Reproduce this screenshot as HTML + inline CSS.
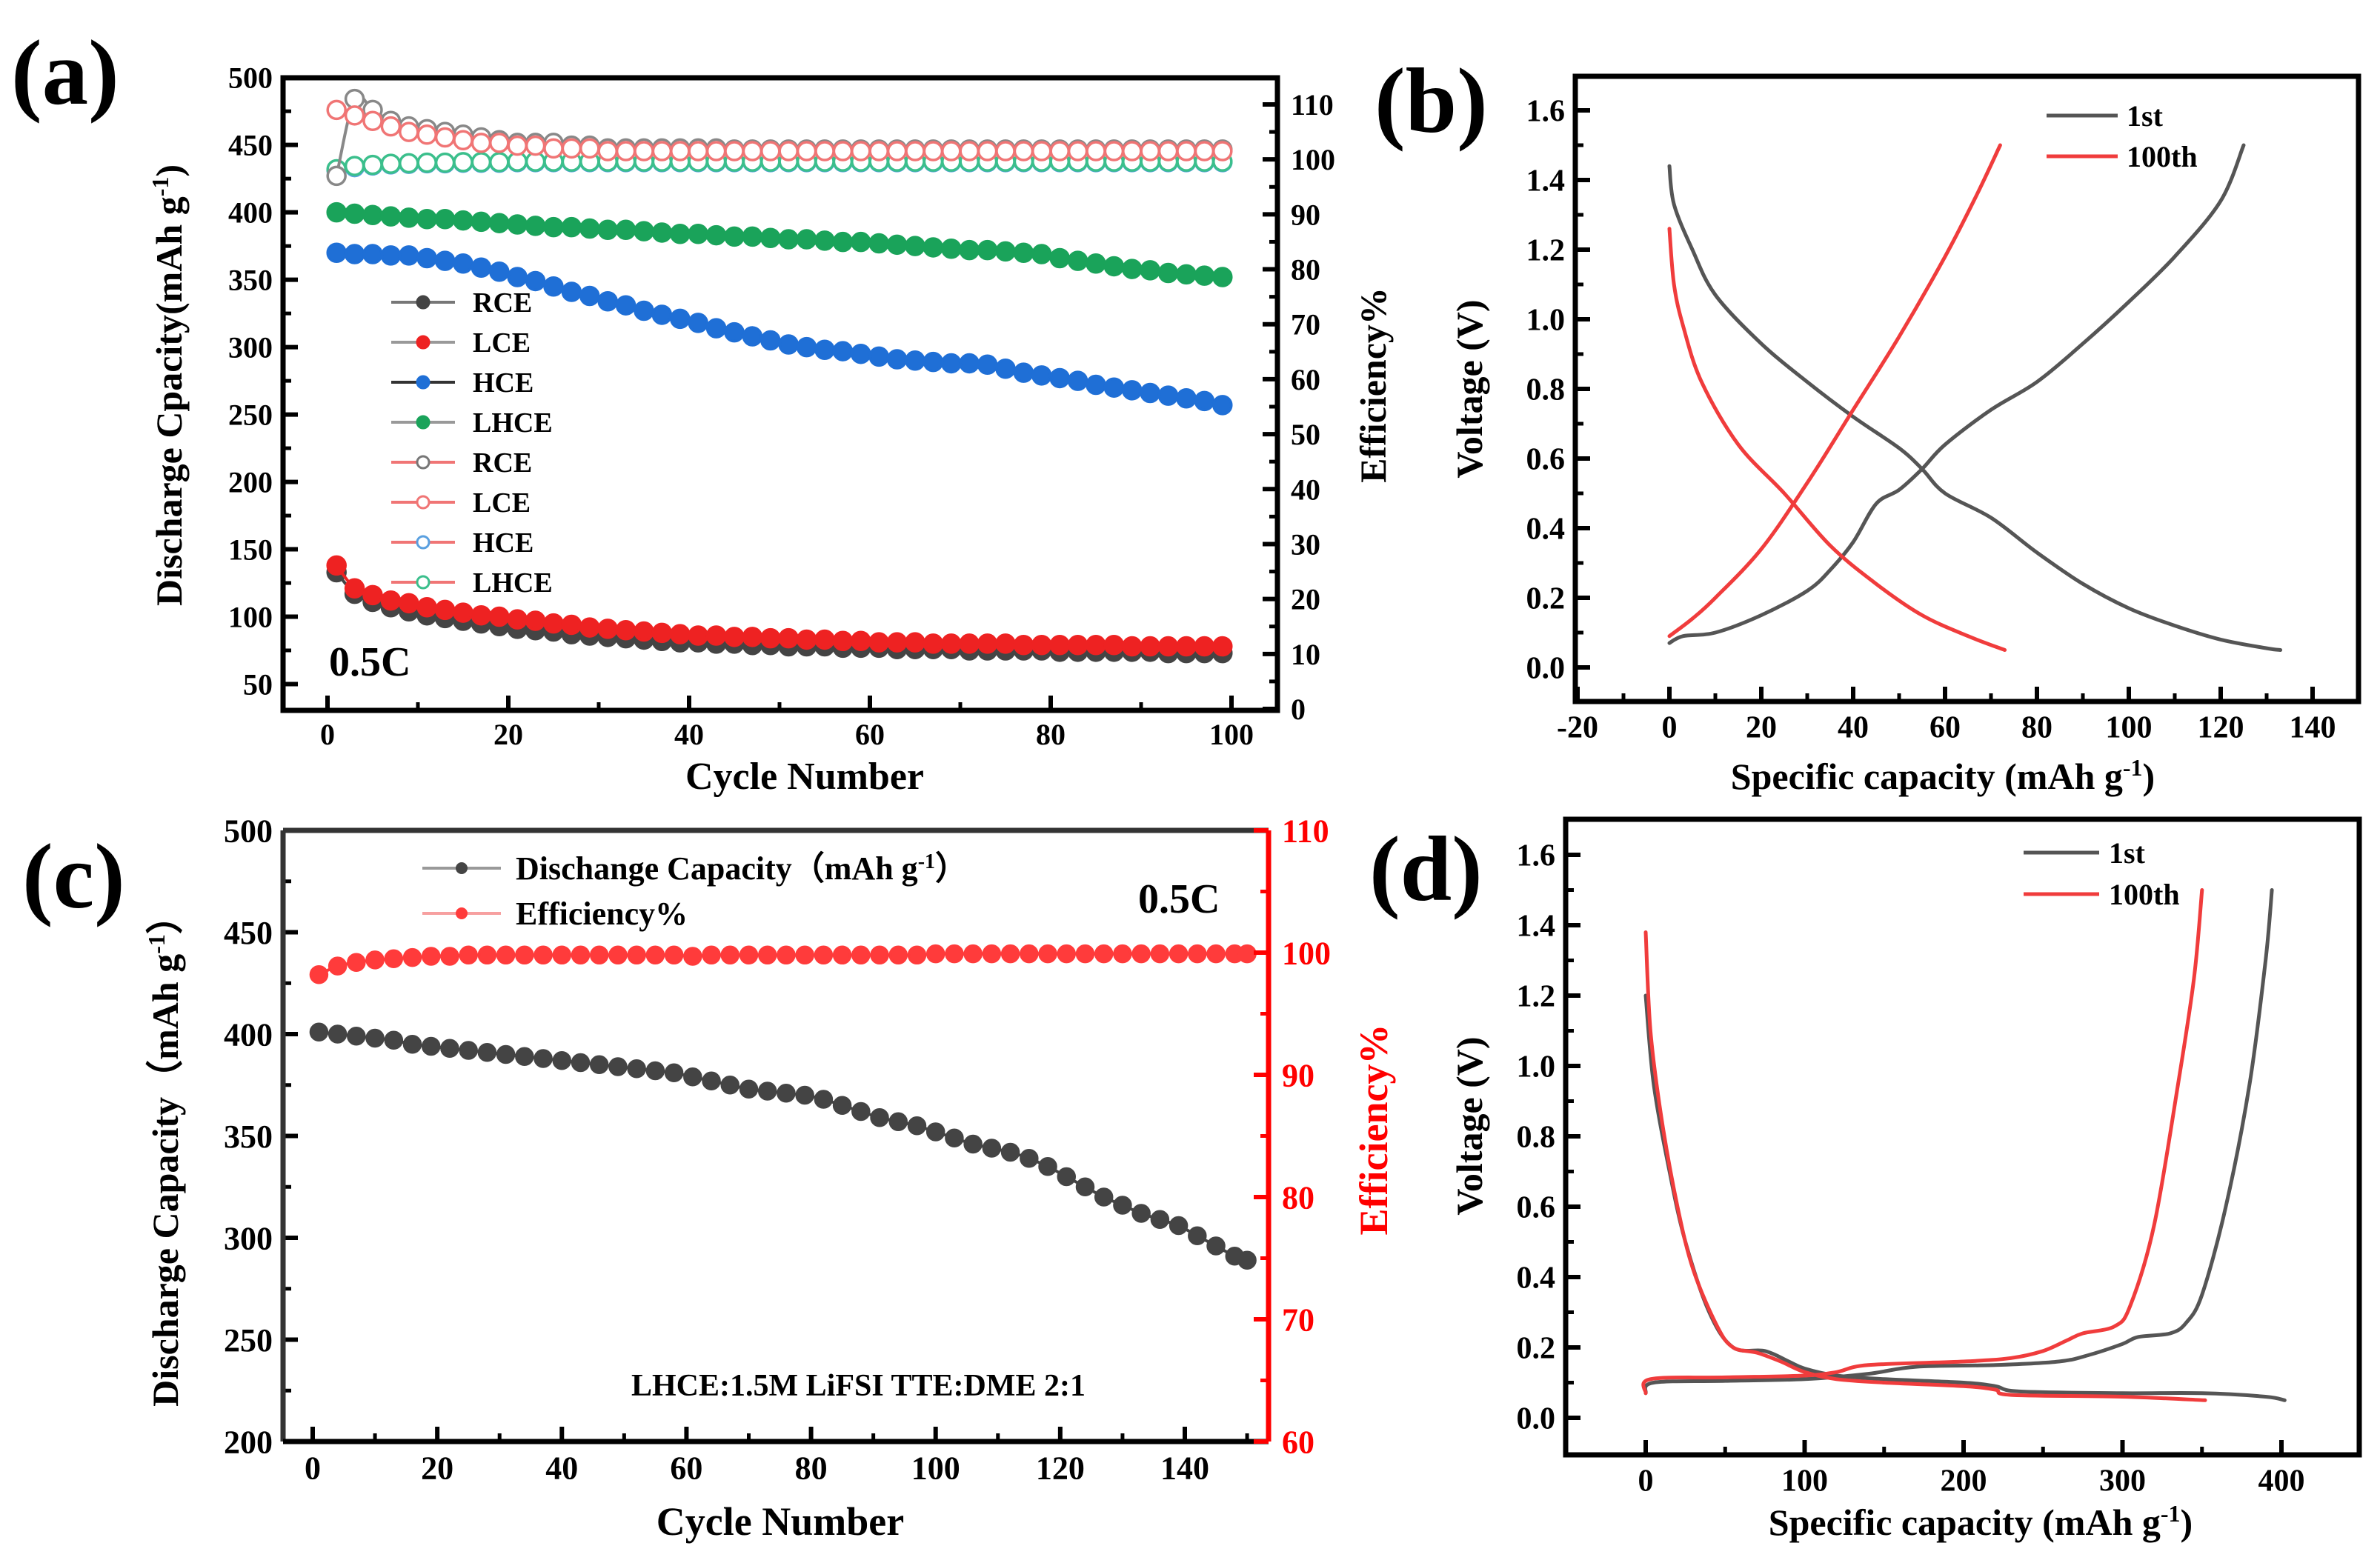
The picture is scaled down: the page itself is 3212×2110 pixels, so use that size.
<!DOCTYPE html>
<html><head><meta charset="utf-8">
<style>
html,body{margin:0;padding:0;background:#fff;}
svg{display:block;font-family:"Liberation Serif","Times New Roman",serif;font-weight:bold;}
</style></head>
<body>
<svg id="fig" width="3212" height="2110" viewBox="0 0 3212 2110" xmlns="http://www.w3.org/2000/svg">
<rect x="0" y="0" width="3212" height="2110" fill="#fff"/>
<text x="15" y="140" font-size="125">(a)</text>
<text x="1855" y="178" font-size="125">(b)</text>
<text x="30" y="1225" font-size="125">(c)</text>
<text x="1848" y="1215" font-size="125">(d)</text>
</svg>
<script>
// ---------- Panel (a) data ----------
const cyclesA = [1,3,5,7,9,11,13,15,17,19,21,23,25,27,29,31,33,35,37,39,41,43,45,47,49,51,53,55,57,59,61,63,65,67,69,71,73,75,77,79,81,83,85,87,89,91,93,95,97,99];
const capRCE = [133,117,111,107,104,101,99,97,95,93,91,90,89,87,86,85,84,83,82,81,81,80,80,79,79,78,78,78,77,77,77,76,76,76,76,75,75,75,75,75,74,74,74,74,74,74,73,73,73,73];
const capLCE = [138,121,116,112,110,107,105,103,101,100,98,97,95,94,92,91,90,89,88,87,86,86,85,85,84,84,83,83,82,82,81,81,81,80,80,80,80,80,79,79,79,79,79,79,78,78,78,78,78,78];
const capHCE = [370,369,369,368,368,366,364,362,359,356,352,349,345,341,338,334,331,327,324,321,318,314,311,308,305,302,300,298,297,295,293,291,290,289,288,288,287,284,281,279,277,275,272,270,268,266,264,262,260,257];
const capLHCE = [400,399,398,397,396,395,395,394,393,392,391,390,389,389,388,387,387,386,385,384,384,383,382,382,381,380,380,379,378,378,377,376,375,374,373,372,372,371,370,369,366,364,362,360,358,357,355,354,353,352];
const effRCE = [97,111,109,107,106,105.5,105,104.5,104,103.5,103,103,103,102.5,102.5,102,102,102,102,102,102,102,101.8,101.8,101.8,101.8,101.8,101.8,101.8,101.8,101.8,101.8,101.8,101.8,101.8,101.8,101.8,101.8,101.8,101.8,101.8,101.8,101.8,101.8,101.8,101.8,101.8,101.8,101.8,101.8];
const effLCE = [109,108,107,106,105,104.5,104,103.5,103,103,102.5,102.5,102,102,102,101.5,101.5,101.5,101.5,101.5,101.5,101.5,101.5,101.5,101.5,101.5,101.5,101.5,101.5,101.5,101.5,101.5,101.5,101.5,101.5,101.5,101.5,101.5,101.5,101.5,101.5,101.5,101.5,101.5,101.5,101.5,101.5,101.5,101.5,101.5];
const effHCE = [98,98.6,98.9,99.1,99.2,99.3,99.3,99.4,99.4,99.4,99.5,99.5,99.5,99.5,99.5,99.5,99.5,99.5,99.5,99.5,99.5,99.5,99.5,99.5,99.5,99.5,99.5,99.5,99.5,99.5,99.5,99.5,99.5,99.5,99.5,99.5,99.5,99.5,99.5,99.5,99.5,99.5,99.5,99.5,99.5,99.5,99.5,99.5,99.5,99.5];
const effLHCE = [98.2,98.8,99.0,99.2,99.3,99.4,99.4,99.5,99.5,99.5,99.6,99.6,99.6,99.6,99.6,99.6,99.6,99.6,99.6,99.6,99.6,99.6,99.6,99.6,99.6,99.6,99.6,99.6,99.6,99.6,99.6,99.6,99.6,99.6,99.6,99.6,99.6,99.6,99.6,99.6,99.6,99.6,99.6,99.6,99.6,99.6,99.6,99.6,99.6,99.6];
const legendA = ["RCE","LCE","HCE","LHCE","RCE","LCE","HCE","LHCE"];
// ---------- Panel (b) data ----------
const b1ChX = [0,3,10,20,30,35,40,45,50,55,60,70,80,90,100,110,120,125];
const b1ChY = [0.07,0.09,0.10,0.15,0.22,0.28,0.36,0.47,0.51,0.57,0.64,0.74,0.82,0.93,1.05,1.18,1.34,1.50];
const b1DiX = [0,1,5,10,20,30,40,50,55,60,70,80,90,100,110,120,130,133];
const b1DiY = [1.44,1.33,1.20,1.07,0.93,0.82,0.72,0.63,0.57,0.50,0.43,0.33,0.24,0.17,0.12,0.08,0.055,0.05];
const b100ChX = [0,5,10,20,30,40,50,60,67,72];
const b100ChY = [0.09,0.14,0.20,0.34,0.53,0.74,0.95,1.18,1.36,1.50];
const b100DiX = [0,1,3,7,15,25,35,45,55,65,73];
const b100DiY = [1.26,1.10,0.98,0.82,0.64,0.50,0.35,0.24,0.15,0.09,0.05];
// ---------- Panel (c) data ----------
const cyclesC = [1,4,7,10,13,16,19,22,25,28,31,34,37,40,43,46,49,52,55,58,61,64,67,70,73,76,79,82,85,88,91,94,97,100,103,106,109,112,115,118,121,124,127,130,133,136,139,142,145,148,150];
const capC = [401,400,399,398,397,395,394,393,392,391,390,389,388,387,386,385,384,383,382,381,379,377,375,373,372,371,370,368,365,362,359,357,355,352,349,346,344,342,339,335,330,325,320,316,312,309,306,301,296,291,289];
const effC = [98.2,98.9,99.2,99.4,99.5,99.6,99.7,99.7,99.8,99.8,99.8,99.8,99.8,99.8,99.8,99.8,99.8,99.8,99.8,99.8,99.7,99.8,99.8,99.8,99.8,99.8,99.8,99.8,99.8,99.8,99.8,99.8,99.8,99.9,99.9,99.9,99.9,99.9,99.9,99.9,99.9,99.9,99.9,99.9,99.9,99.9,99.9,99.9,99.9,99.9,99.9];
// ---------- Panel (d) data ----------
const d1DiX = [0,5,15,25,40,55,75,90,100,120,150,200,220,235,300,350,390,402];
const d1DiY = [1.20,0.95,0.70,0.50,0.30,0.20,0.19,0.16,0.14,0.12,0.11,0.10,0.09,0.075,0.07,0.07,0.06,0.05];
const d1ChX = [0,5,50,100,140,170,220,260,280,300,310,330,340,350,365,380,390,394];
const d1ChY = [0.07,0.10,0.105,0.11,0.125,0.145,0.15,0.16,0.18,0.21,0.23,0.24,0.27,0.35,0.60,0.95,1.30,1.50];
const d100DiX = [0,3,10,20,30,45,55,70,85,100,120,150,200,220,230,300,352];
const d100DiY = [1.38,1.10,0.85,0.60,0.42,0.26,0.20,0.185,0.16,0.13,0.11,0.10,0.09,0.08,0.065,0.06,0.05];
const d100ChX = [0,3,50,100,120,140,200,230,250,265,275,295,305,320,335,345,350];
const d100ChY = [0.07,0.11,0.115,0.12,0.13,0.15,0.16,0.17,0.19,0.22,0.24,0.26,0.32,0.55,0.95,1.25,1.50];

const NS = "http://www.w3.org/2000/svg";
const svg = document.getElementById("fig");
function mk(tag, attrs, parent){
  const e = document.createElementNS(NS, tag);
  for (const k in attrs) e.setAttribute(k, attrs[k]);
  (parent||svg).appendChild(e);
  return e;
}
function lin(d0,d1,p0,p1){ return v => p0 + (v-d0)*(p1-p0)/(d1-d0); }

function axisY(x, sc, vals, minors, side, color, fmt, fs){
  const dir = side==="left" ? 1 : -1;
  vals.forEach(v=>{
    const l = mk("line",{x1:x,x2:x+dir*20,y1:sc(v),y2:sc(v),stroke:color,"stroke-width":6});
    
    
    const t = mk("text",{x: side==="left"? x-14 : x+18, y: sc(v)+fs*0.35, "font-size":fs, fill:color, "text-anchor": side==="left"?"end":"start"});
    t.textContent = fmt(v);
    
    
  });
  minors.forEach(v=>{
    const l = mk("line",{x1:x,x2:x+dir*11,y1:sc(v),y2:sc(v),stroke:color,"stroke-width":5});
    
    
  });
}
function axisX(y, sc, vals, minors, fmt, fs){
  vals.forEach(v=>{
    const l = mk("line",{x1:sc(v),x2:sc(v),y1:y,y2:y-20,stroke:"#000","stroke-width":6});
    
    
    const t = mk("text",{x:sc(v), y:y+fs*1.15, "font-size":fs, "text-anchor":"middle"});
    t.textContent = fmt(v);
    
    
  });
  minors.forEach(v=>{
    const l = mk("line",{x1:sc(v),x2:sc(v),y1:y,y2:y-11,stroke:"#000","stroke-width":5});
    
    
  });
}
function frame(x0,y0,x1,y1,name){
  const r = mk("rect",{x:x0,y:y0,width:x1-x0,height:y1-y0,fill:"none",stroke:"#000","stroke-width":7});
  
  
}
function title(txt, x, y, fs, rot, color, name){
  const t = mk("text",{x:x,y:y,"font-size":fs,"text-anchor":"middle",fill:color||"#000"});
  if (rot) t.setAttribute("transform",`rotate(-90 ${x} ${y})`);
  t.innerHTML = txt;
  
  
  return t;
}
function curve(xs, ys, sx, sy, color, w, name){
  const P = xs.map((v,i)=>[sx(v), sy(ys[i])]);
  let d = `M${P[0][0].toFixed(1)},${P[0][1].toFixed(1)}`;
  for (let i=0;i<P.length-1;i++){
    const p0=P[Math.max(0,i-1)], p1=P[i], p2=P[i+1], p3=P[Math.min(P.length-1,i+2)];
    const c1=[p1[0]+(p2[0]-p0[0])/6, p1[1]+(p2[1]-p0[1])/6];
    const c2=[p2[0]-(p3[0]-p1[0])/6, p2[1]-(p3[1]-p1[1])/6];
    d += ` C${c1[0].toFixed(1)},${c1[1].toFixed(1)} ${c2[0].toFixed(1)},${c2[1].toFixed(1)} ${p2[0].toFixed(1)},${p2[1].toFixed(1)}`;
  }
  const p = mk("path",{d:d,fill:"none",stroke:color,"stroke-width":w,"stroke-linejoin":"round","stroke-linecap":"round"});
  
  
}
function markers(xs, ys, sx, sy, color, filled, r, name){
  curve(xs, ys, sx, sy, color, 4, name+"-line");
  xs.forEach((v,i)=>{
    const c = mk("circle",{cx:sx(v),cy:sy(ys[i]),r:r,fill:filled?color:"#fff",stroke:color,"stroke-width":3.5});
    
    
  });
}
const rng = (a,b,s)=>{const o=[];for(let v=a;v<=b+1e-9;v+=s)o.push(+v.toFixed(4));return o;};

// ===== Panel (a) =====
{
  const x0=382,x1=1724,y0=105,y1=959;
  const sx = lin(0,100,442,1662);
  const sy = lin(50,500,923.5,104.7);
  const sr = lin(0,110,957,141);
  axisY(x0, sy, rng(50,500,50), rng(75,475,50), "left", "#000", v=>v, 40);
  axisY(x1, sr, rng(0,110,10), rng(5,105,10), "right", "#000", v=>v, 40);
  axisX(y1, sx, rng(0,100,20), rng(10,90,20), v=>v, 40);
  markers(cyclesA, effHCE, sx, sr, "#5aa0e0", false, 12, "eff-hce");
  markers(cyclesA, effLHCE, sx, sr, "#3bbf8c", false, 12, "eff-lhce");
  markers(cyclesA, effRCE, sx, sr, "#888", false, 12, "eff-rce");
  markers(cyclesA, effLCE, sx, sr, "#f07575", false, 12, "eff-lce");
  markers(cyclesA, capLHCE, sx, sy, "#1aa35a", true, 12, "cap-lhce");
  markers(cyclesA, capHCE, sx, sy, "#1f6fd6", true, 12, "cap-hce");
  markers(cyclesA, capRCE, sx, sy, "#444", true, 12, "cap-rce");
  markers(cyclesA, capLCE, sx, sy, "#ee2222", true, 12, "cap-lce");
  frame(x0,y0,x1,y1,"panel-a-frame");
  title("Cycle Number", 1086, 1065, 52, false, "#000", "x-axis-title-a");
  title("Discharge Cpacity(mAh g<tspan baseline-shift='super' font-size='32'>-1</tspan>)", 245, 520, 50, true, "#000", "y-axis-title-a");
  title("Efficiency%", 1870, 520, 50, true, "#000", "y2-axis-title-a");
  const t = mk("text",{x:444,y:912,"font-size":56}); t.textContent="0.5C";
   
  const cols = ["#444","#ee2222","#1f6fd6","#1aa35a","#777","#f07575","#5aa0e0","#3bbf8c"];
  const lcol = ["#777","#999","#333","#999","#f07575","#f07575","#f07575","#f07575"];
  legendA.forEach((name,i)=>{
    const y = 408 + i*54;
    const l = mk("line",{x1:528,x2:614,y1:y,y2:y,stroke:lcol[i],"stroke-width":4});
     
    const c = mk("circle",{cx:571,cy:y,r:8,fill:i<4?cols[i]:"#fff",stroke:cols[i],"stroke-width":3});
     
    const tx = mk("text",{x:638,y:y+13,"font-size":38}); tx.textContent = name;
     
  });
}
// ===== Panel (b) =====
{
  const x0=2126,x1=3183,y0=103,y1=947;
  const sx = lin(0,20,2253,2377);
  const sy = lin(0,1.6,901,149);
  axisY(x0, sy, rng(0,1.6,0.2), rng(0.1,1.5,0.2), "left", "#000", v=>v.toFixed(1), 42);
  axisX(y1, sx, rng(-20,140,20), rng(-10,130,20), v=>v, 42);
  curve(b1ChX,b1ChY,sx,sy,"#555",5,"curve-1st-charge-b");
  curve(b1DiX,b1DiY,sx,sy,"#555",5,"curve-1st-discharge-b");
  curve(b100ChX,b100ChY,sx,sy,"#f03c3c",5,"curve-100th-charge-b");
  curve(b100DiX,b100DiY,sx,sy,"#f03c3c",5,"curve-100th-discharge-b");
  frame(x0,y0,x1,y1,"panel-b-frame");
  title("Specific capacity (mAh g<tspan baseline-shift='super' font-size='32'>-1</tspan>)", 2622, 1065, 50, false, "#000", "x-axis-title-b");
  title("Voltage (V)", 2000, 525, 50, true, "#000", "y-axis-title-b");
  [["1st","#555",156],["100th","#f03c3c",211]].forEach(([n,c,y])=>{
    const l = mk("line",{x1:2762,x2:2858,y1:y,y2:y,stroke:c,"stroke-width":5});
     
    const t = mk("text",{x:2870,y:y+14,"font-size":40}); t.textContent=n;
     
  });
}
// ===== Panel (c) =====
{
  const x0=382,x1=1712,y0=1121,y1=1946;
  const sx = lin(0,140,422,1599);
  const sy = lin(200,500,1946,1121);
  const sr = lin(60,110,1946,1121);
  axisY(x0, sy, rng(200,500,50), rng(225,475,50), "left", "#000", v=>v, 44);
  axisX(y1, sx, rng(0,140,20), rng(10,150,20), v=>v, 44);
  markers(cyclesC, effC, sx, sr, "#ff3b3b", true, 11, "eff-c");
  markers(cyclesC, capC, sx, sy, "#444", true, 11, "cap-c");
  mk("line",{x1:x0,x2:x1,y1:y0,y2:y0,stroke:"#333","stroke-width":7});
  mk("line",{x1:x0,x2:x0,y1:y0,y2:y1,stroke:"#333","stroke-width":7});
  mk("line",{x1:x0,x2:x1,y1:y1,y2:y1,stroke:"#000","stroke-width":7});
  mk("line",{x1:x1,x2:x1,y1:y0,y2:y1,stroke:"#ff0000","stroke-width":7});
  axisY(x1, sr, rng(60,110,10), rng(65,105,10), "right", "#ff0000", v=>v, 44);
  title("Cycle Number", 1053, 2072, 54, false, "#000", "x-axis-title-c");
  title("Discharge Capacity（mAh g<tspan baseline-shift='super' font-size='32'>-1</tspan>）", 240, 1555, 50, true, "#000", "y-axis-title-c");
  title("Efficiency%", 1872, 1525, 54, true, "#ff0000", "y2-axis-title-c");
  const r1 = mk("text",{x:1536,y:1232,"font-size":56}); r1.textContent="0.5C";
   
  const r2 = mk("text",{x:852,y:1884,"font-size":42}); r2.textContent="LHCE:1.5M LiFSI TTE:DME 2:1";
   
  [["Dischange Capacity（mAh g<tspan baseline-shift='super' font-size='28'>-1</tspan>）","#444","#999",1172],["Efficiency%","#ff3b3b","#f7a0a0",1233]].forEach(([n,c,lc,y])=>{
    const l = mk("line",{x1:570,x2:676,y1:y,y2:y,stroke:lc,"stroke-width":4});
     
    const m = mk("circle",{cx:623,cy:y,r:8,fill:c});
     
    const t = mk("text",{x:696,y:y+15,"font-size":44}); t.innerHTML=n;
     
  });
}
// ===== Panel (d) =====
{
  const x0=2113,x1=3184,y0=1106,y1=1964;
  const sx = lin(0,400,2221,3079);
  const sy = lin(0,1.6,1914,1154);
  axisY(x0, sy, rng(0,1.6,0.2), rng(0.1,1.5,0.2), "left", "#000", v=>v.toFixed(1), 42);
  axisX(y1, sx, rng(0,400,100), rng(50,350,100), v=>v, 42);
  curve(d1DiX,d1DiY,sx,sy,"#555",5,"curve-1st-discharge-d");
  curve(d1ChX,d1ChY,sx,sy,"#555",5,"curve-1st-charge-d");
  curve(d100DiX,d100DiY,sx,sy,"#f03c3c",5,"curve-100th-discharge-d");
  curve(d100ChX,d100ChY,sx,sy,"#f03c3c",5,"curve-100th-charge-d");
  frame(x0,y0,x1,y1,"panel-d-frame");
  title("Specific capacity (mAh g<tspan baseline-shift='super' font-size='32'>-1</tspan>)", 2673, 2072, 50, false, "#000", "x-axis-title-d");
  title("Voltage (V)", 2000, 1520, 50, true, "#000", "y-axis-title-d");
  [["1st","#555",1151],["100th","#f03c3c",1207]].forEach(([n,c,y])=>{
    const l = mk("line",{x1:2731,x2:2833,y1:y,y2:y,stroke:c,"stroke-width":5});
     
    const t = mk("text",{x:2846,y:y+14,"font-size":40}); t.textContent=n;
     
  });
}
</script>
</body></html>
